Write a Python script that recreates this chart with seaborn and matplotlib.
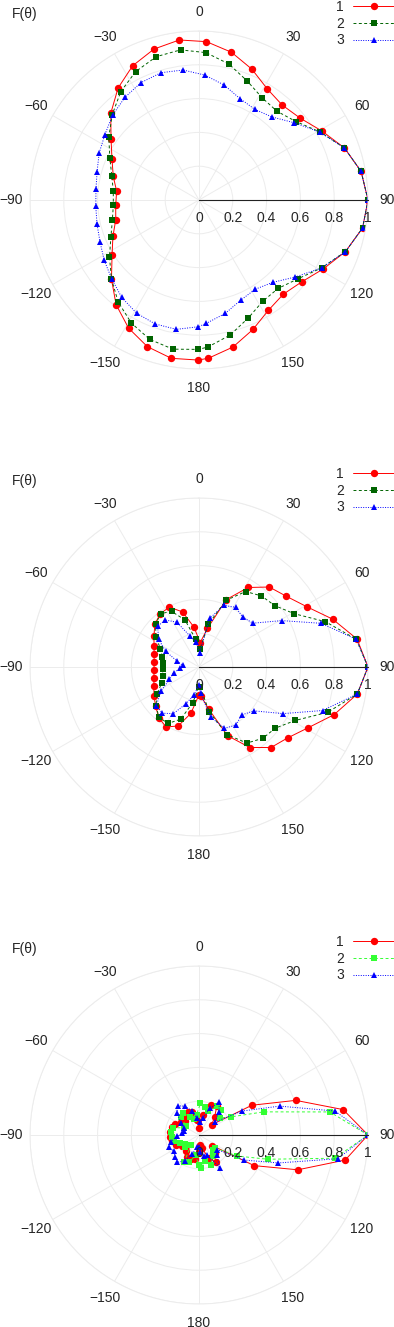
import numpy as np
import matplotlib
matplotlib.use("Agg")
import matplotlib.pyplot as plt
import seaborn as sns

# Angles of the sample points (degrees, 0 = top, clockwise positive)
angles = [90, 80, 70.3, 60.7, 51, 41.3, 31.7, 22, 12.4, 2.7, -7, -16.6, -26.3, -35.8,
          -45.5, -55.2, -64.8, -74.4, -84, -93.6, -103.3, -112.9, -122.5, -132.1, -141.6,
          -151.2, -160.6, -170.1, -179.7, 176.6, 167, 157.4, 147.8, 138.2, 128.6, 119,
          109.4, 99.7, 90]

# Panel 1
p1_s1 = [1.0, 0.974, 0.914, 0.834, 0.77, 0.747, 0.771, 0.835, 0.895, 0.938, 0.954, 0.932,
         0.886, 0.818, 0.732, 0.634, 0.569, 0.527, 0.49, 0.494, 0.506, 0.553, 0.61, 0.698,
         0.79, 0.865, 0.92, 0.951, 0.947, 0.938, 0.893, 0.83, 0.771, 0.748, 0.777, 0.841,
         0.919, 0.982, 1.0]
p1_s2 = [1.0, 0.974, 0.914, 0.822, 0.738, 0.699, 0.711, 0.76, 0.824, 0.873, 0.895, 0.885,
         0.847, 0.791, 0.72, 0.65, 0.583, 0.536, 0.51, 0.508, 0.527, 0.566, 0.628, 0.698,
         0.77, 0.831, 0.875, 0.896, 0.884, 0.872, 0.82, 0.757, 0.708, 0.702, 0.748, 0.829,
         0.919, 0.982, 1.0]
p1_s3 = [1.0, 0.974, 0.914, 0.82, 0.726, 0.654, 0.63, 0.647, 0.696, 0.74, 0.775, 0.786,
         0.775, 0.749, 0.717, 0.678, 0.653, 0.626, 0.613, 0.612, 0.62, 0.636, 0.665, 0.696,
         0.736, 0.765, 0.778, 0.777, 0.75, 0.731, 0.689, 0.642, 0.624, 0.654, 0.73, 0.829,
         0.919, 0.982, 1.0]

# Panel 2
p2_s1 = [1.0, 0.95, 0.84, 0.73, 0.665, 0.63, 0.553, 0.43, 0.234, 0.144, 0.236, 0.34,
         0.395, 0.39, 0.365, 0.325, 0.294, 0.276, 0.267, 0.267, 0.274, 0.29, 0.316, 0.346,
         0.383, 0.405, 0.37, 0.278, 0.166, 0.17, 0.256, 0.44, 0.563, 0.639, 0.672, 0.74,
         0.848, 0.95, 1.0]
p2_s2 = [1.0, 0.945, 0.795, 0.645, 0.577, 0.56, 0.525, 0.425, 0.26, 0.105, 0.166, 0.291,
         0.367, 0.389, 0.36, 0.311, 0.252, 0.225, 0.217, 0.215, 0.22, 0.239, 0.293, 0.344,
         0.38, 0.381, 0.328, 0.215, 0.117, 0.12, 0.275, 0.434, 0.532, 0.566, 0.579, 0.652,
         0.807, 0.95, 1.0]
p2_s3 = [1.0, 0.945, 0.767, 0.561, 0.412, 0.392, 0.415, 0.393, 0.295, 0.085, 0.15, 0.193,
         0.296, 0.343, 0.343, 0.291, 0.219, 0.137, 0.097, 0.11, 0.155, 0.19, 0.267, 0.34,
         0.349, 0.315, 0.23, 0.167, 0.107, 0.156, 0.304, 0.392, 0.407, 0.38, 0.416, 0.569,
         0.775, 0.95, 1.0]

# Panel 3
p3_s1 = [1.0, 0.866, 0.608, 0.36, 0.096, 0.14, 0.2, 0.19, 0.12, 0.04, 0.09, 0.14,
         0.15, 0.14, 0.12, 0.13, 0.155, 0.166, 0.172, 0.172, 0.166, 0.15, 0.12, 0.1,
         0.12, 0.15, 0.15, 0.146, 0.1, 0.06, 0.08, 0.15, 0.19, 0.14, 0.1, 0.374,
         0.62, 0.878, 1.0]
p3_s2 = [1.0, 0.786, 0.406, 0.22, 0.16, 0.2, 0.2, 0.15, 0.17, 0.188, 0.12, 0.1,
         0.12, 0.16, 0.15, 0.094, 0.1, 0.16, 0.165, 0.16, 0.15, 0.12, 0.1, 0.11,
         0.073, 0.18, 0.17, 0.12, 0.178, 0.195, 0.16, 0.19, 0.15, 0.122, 0.12, 0.256,
         0.432, 0.815, 1.0]
p3_s3 = [1.0, 0.817, 0.507, 0.289, 0.12, 0.18, 0.227, 0.17, 0.1, 0.079, 0.1, 0.15,
         0.19, 0.213, 0.185, 0.129, 0.1, 0.095, 0.1, 0.13, 0.17, 0.19, 0.178, 0.19,
         0.206, 0.174, 0.12, 0.07, 0.07, 0.1, 0.13, 0.13, 0.23, 0.16, 0.14, 0.306,
         0.498, 0.833, 1.0]

series_labels = ["1", "2", "3"]
panels = [
    (p1_s1, p1_s2, p1_s3, "#006400"),
    (p2_s1, p2_s2, p2_s3, "#006400"),
    (p3_s1, p3_s2, p3_s3, "#33ff33"),
]

r_ticks = [0, 0.2, 0.4, 0.6, 0.8, 1]
r_tick_labels = ["0", "0.2", "0.4", "0.6", "0.8", "1"]
theta_ticks = [0, 30, 60, 90, 120, 150, 180, 210, 240, 270, 300, 330]
theta_labels = ["0", "30", "60", "90", "120", "150", "180",
                "\u2212150", "\u2212120", "\u221290", "\u221260", "\u221230"]

sns.set_style("white")
plt.rcParams['font.family'] = ['Liberation Sans', 'DejaVu Sans']
plt.rcParams['font.size'] = 10

W, H = 394, 1327
cx, R = 199, 169
centres = [200, 667, 1135]
grid_col = "#ececec"

fig = plt.figure(figsize=(W / 100, H / 100), dpi=100)
theta = np.deg2rad(angles)

for (s1, s2, s3, green), cy in zip(panels, centres):
    ax = fig.add_axes([(cx - R) / W, (H - cy - R) / H, 2 * R / W, 2 * R / H],
                      projection="polar")
    ax.set_theta_zero_location("N")
    ax.set_theta_direction(-1)
    ax.set_ylim(0, 1)
    ax.set_facecolor("none")

    styles = [
        (s1, "red", "o", 5.3, "-"),
        (s2, green, "s", 4.8, (0, (3, 2.5))),
        (s3, "blue", "^", 5, (0, (1, 1.5))),
    ]
    for (vals, col, mk, ms, ls), lab in zip(styles, series_labels):
        sns.lineplot(x=theta, y=vals, ax=ax, sort=False, estimator=None,
                     color=col, marker=mk, markersize=ms, linestyle=ls,
                     linewidth=0.7, markeredgewidth=0, label=lab, legend=False)

    ax.set_thetagrids(theta_ticks, theta_labels)
    ax.tick_params(axis="x", length=0, pad=6.5, labelsize=10)
    ax.set_yticks([0.2, 0.4, 0.6, 0.8, 1.0])
    ax.set_yticklabels([])
    ax.grid(True, color=grid_col, linewidth=0.7)
    ax.spines["polar"].set_color(grid_col)
    ax.spines["polar"].set_linewidth(0.7)
    ax.set_xlabel("")
    ax.set_ylabel("")

    ax.text(-0.015, 1.049, "F(\u03b8)", transform=ax.transAxes,
            ha="center", va="center", fontsize=10)

    leg = ax.legend(loc="upper left", bbox_to_anchor=(0.905, 1.092),
                    frameon=False, markerfirst=False, handlelength=3.0,
                    handletextpad=0.7, labelspacing=0.2, borderpad=0,
                    borderaxespad=0, fontsize=10)

    # radial scale drawn along the 90 degree direction
    ax2 = fig.add_axes([cx / W, (H - cy) / H, R / W, 0.002])
    ax2.set_xlim(0, 1)
    ax2.patch.set_visible(False)
    for side in ["top", "left", "right"]:
        ax2.spines[side].set_visible(False)
    ax2.spines["bottom"].set_color("#222222")
    ax2.spines["bottom"].set_linewidth(0.8)
    ax2.set_yticks([])
    ax2.set_xticks(r_ticks)
    ax2.set_xticklabels(r_tick_labels)
    ax2.tick_params(axis="x", direction="in", length=4, width=0.8,
                    color="#222222", pad=8, labelsize=10)

fig.savefig("out.png", dpi=100)
